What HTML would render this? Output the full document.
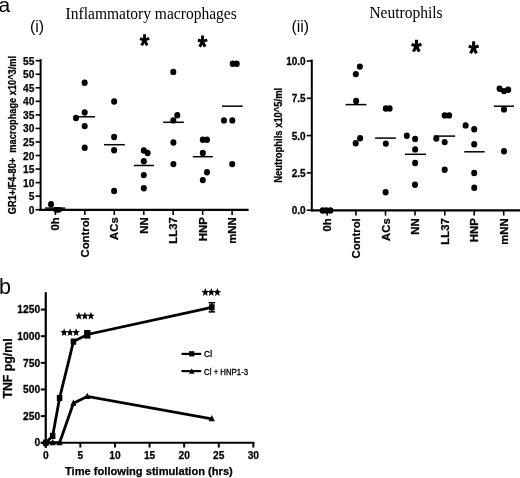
<!DOCTYPE html>
<html><head><meta charset="utf-8"><style>
html,body{margin:0;padding:0;background:#fff;}
body{width:520px;height:478px;overflow:hidden;}
svg{display:block;filter:grayscale(1);}
text{fill:#000;}
text.b{stroke:#000;stroke-width:0.25px;}
text.m{stroke:#000;stroke-width:0.35px;}
</style></head><body>
<svg width="520" height="478" viewBox="0 0 520 478">
<rect width="520" height="478" fill="#fff"/>
<text x="0" y="0" font-size="21" font-family="'Liberation Sans', sans-serif" text-anchor="start" transform="translate(-1.6 11.6)" >a</text>
<text x="0" y="0" font-size="15.8" font-family="'Liberation Sans', sans-serif" text-anchor="start" transform="translate(29.9 31.8)" >(i)</text>
<text x="0" y="0" font-size="15.8" font-family="'Liberation Sans', sans-serif" text-anchor="start" transform="translate(291.4 32.0)" >(ii)</text>
<text x="0" y="0" font-size="15.8" font-family="'Liberation Serif', serif" text-anchor="start" transform="translate(65.6 18.65)" textLength="171.2" lengthAdjust="spacingAndGlyphs">Inflammatory macrophages</text>
<text x="0" y="0" font-size="15.8" font-family="'Liberation Serif', serif" text-anchor="start" transform="translate(369.4 18.35)" textLength="73.2" lengthAdjust="spacingAndGlyphs">Neutrophils</text>
<line x1="40.6" y1="59.1" x2="40.6" y2="210.95" stroke="#000" stroke-width="2.0"/>
<line x1="39.6" y1="209.85" x2="248.6" y2="209.85" stroke="#000" stroke-width="2.2"/>
<line x1="35.6" y1="209.7" x2="40.6" y2="209.7" stroke="#000" stroke-width="1.6"/>
<text x="0" y="0" font-size="10.2" class="b" font-family="'Liberation Sans', sans-serif" font-weight="bold" text-anchor="end" transform="translate(34.4 213.7)" >0</text>
<line x1="35.6" y1="196.155" x2="40.6" y2="196.155" stroke="#000" stroke-width="1.6"/>
<text x="0" y="0" font-size="10.2" class="b" font-family="'Liberation Sans', sans-serif" font-weight="bold" text-anchor="end" transform="translate(34.4 200.155)" >5</text>
<line x1="35.6" y1="182.60999999999999" x2="40.6" y2="182.60999999999999" stroke="#000" stroke-width="1.6"/>
<text x="0" y="0" font-size="10.2" class="b" font-family="'Liberation Sans', sans-serif" font-weight="bold" text-anchor="end" transform="translate(34.4 186.60999999999999)" >10</text>
<line x1="35.6" y1="169.065" x2="40.6" y2="169.065" stroke="#000" stroke-width="1.6"/>
<text x="0" y="0" font-size="10.2" class="b" font-family="'Liberation Sans', sans-serif" font-weight="bold" text-anchor="end" transform="translate(34.4 173.065)" >15</text>
<line x1="35.6" y1="155.51999999999998" x2="40.6" y2="155.51999999999998" stroke="#000" stroke-width="1.6"/>
<text x="0" y="0" font-size="10.2" class="b" font-family="'Liberation Sans', sans-serif" font-weight="bold" text-anchor="end" transform="translate(34.4 159.51999999999998)" >20</text>
<line x1="35.6" y1="141.97499999999997" x2="40.6" y2="141.97499999999997" stroke="#000" stroke-width="1.6"/>
<text x="0" y="0" font-size="10.2" class="b" font-family="'Liberation Sans', sans-serif" font-weight="bold" text-anchor="end" transform="translate(34.4 145.97499999999997)" >25</text>
<line x1="35.6" y1="128.43" x2="40.6" y2="128.43" stroke="#000" stroke-width="1.6"/>
<text x="0" y="0" font-size="10.2" class="b" font-family="'Liberation Sans', sans-serif" font-weight="bold" text-anchor="end" transform="translate(34.4 132.43)" >30</text>
<line x1="35.6" y1="114.88499999999999" x2="40.6" y2="114.88499999999999" stroke="#000" stroke-width="1.6"/>
<text x="0" y="0" font-size="10.2" class="b" font-family="'Liberation Sans', sans-serif" font-weight="bold" text-anchor="end" transform="translate(34.4 118.88499999999999)" >35</text>
<line x1="35.6" y1="101.33999999999999" x2="40.6" y2="101.33999999999999" stroke="#000" stroke-width="1.6"/>
<text x="0" y="0" font-size="10.2" class="b" font-family="'Liberation Sans', sans-serif" font-weight="bold" text-anchor="end" transform="translate(34.4 105.33999999999999)" >40</text>
<line x1="35.6" y1="87.79499999999999" x2="40.6" y2="87.79499999999999" stroke="#000" stroke-width="1.6"/>
<text x="0" y="0" font-size="10.2" class="b" font-family="'Liberation Sans', sans-serif" font-weight="bold" text-anchor="end" transform="translate(34.4 91.79499999999999)" >45</text>
<line x1="35.6" y1="74.24999999999997" x2="40.6" y2="74.24999999999997" stroke="#000" stroke-width="1.6"/>
<text x="0" y="0" font-size="10.2" class="b" font-family="'Liberation Sans', sans-serif" font-weight="bold" text-anchor="end" transform="translate(34.4 78.24999999999997)" >50</text>
<line x1="35.6" y1="60.704999999999984" x2="40.6" y2="60.704999999999984" stroke="#000" stroke-width="1.6"/>
<text x="0" y="0" font-size="10.2" class="b" font-family="'Liberation Sans', sans-serif" font-weight="bold" text-anchor="end" transform="translate(34.4 64.70499999999998)" >55</text>
<line x1="55.4" y1="209.85" x2="55.4" y2="215.04999999999998" stroke="#000" stroke-width="1.6"/>
<text x="0" y="0" font-size="11.3" class="b" font-family="'Liberation Sans', sans-serif" font-weight="bold" text-anchor="end" transform="translate(59.4 217.3) rotate(-90)" >0h</text>
<line x1="84.85" y1="209.85" x2="84.85" y2="215.04999999999998" stroke="#000" stroke-width="1.6"/>
<text x="0" y="0" font-size="11.3" class="b" font-family="'Liberation Sans', sans-serif" font-weight="bold" text-anchor="end" transform="translate(88.85 217.3) rotate(-90)" >Control</text>
<line x1="114.3" y1="209.85" x2="114.3" y2="215.04999999999998" stroke="#000" stroke-width="1.6"/>
<text x="0" y="0" font-size="11.3" class="b" font-family="'Liberation Sans', sans-serif" font-weight="bold" text-anchor="end" transform="translate(118.3 217.3) rotate(-90)" >ACs</text>
<line x1="143.75" y1="209.85" x2="143.75" y2="215.04999999999998" stroke="#000" stroke-width="1.6"/>
<text x="0" y="0" font-size="11.3" class="b" font-family="'Liberation Sans', sans-serif" font-weight="bold" text-anchor="end" transform="translate(147.75 217.3) rotate(-90)" >NN</text>
<line x1="173.2" y1="209.85" x2="173.2" y2="215.04999999999998" stroke="#000" stroke-width="1.6"/>
<text x="0" y="0" font-size="11.3" class="b" font-family="'Liberation Sans', sans-serif" font-weight="bold" text-anchor="end" transform="translate(177.2 217.3) rotate(-90)" >LL37</text>
<line x1="202.65" y1="209.85" x2="202.65" y2="215.04999999999998" stroke="#000" stroke-width="1.6"/>
<text x="0" y="0" font-size="11.3" class="b" font-family="'Liberation Sans', sans-serif" font-weight="bold" text-anchor="end" transform="translate(206.65 217.3) rotate(-90)" >HNP</text>
<line x1="232.1" y1="209.85" x2="232.1" y2="215.04999999999998" stroke="#000" stroke-width="1.6"/>
<text x="0" y="0" font-size="11.3" class="b" font-family="'Liberation Sans', sans-serif" font-weight="bold" text-anchor="end" transform="translate(236.1 217.3) rotate(-90)" >mNN</text>
<text x="0" y="0" font-size="10.8" class="b" font-family="'Liberation Sans', sans-serif" font-weight="bold" text-anchor="start" transform="translate(16.2 214.2) rotate(-90)" textLength="158.2" lengthAdjust="spacingAndGlyphs">GR1+/F4-80+&#160; macrophage x10^3/ml</text>
<ellipse cx="51" cy="204.20" rx="3.0" ry="3.2" fill="#000"/>
<ellipse cx="84.65" cy="82.80" rx="3.0" ry="3.2" fill="#000"/>
<ellipse cx="84.7" cy="112.50" rx="3.0" ry="3.2" fill="#000"/>
<ellipse cx="76" cy="118.00" rx="3.0" ry="3.2" fill="#000"/>
<ellipse cx="84.7" cy="126.10" rx="3.0" ry="3.2" fill="#000"/>
<ellipse cx="84.7" cy="147.80" rx="3.0" ry="3.2" fill="#000"/>
<ellipse cx="114.1" cy="101.50" rx="3.0" ry="3.2" fill="#000"/>
<ellipse cx="114.1" cy="137.00" rx="3.0" ry="3.2" fill="#000"/>
<ellipse cx="114.1" cy="150.30" rx="3.0" ry="3.2" fill="#000"/>
<ellipse cx="114.1" cy="191.00" rx="3.0" ry="3.2" fill="#000"/>
<ellipse cx="143.8" cy="150.50" rx="3.0" ry="3.2" fill="#000"/>
<ellipse cx="147.6" cy="153.00" rx="3.0" ry="3.2" fill="#000"/>
<ellipse cx="143.8" cy="161.30" rx="3.0" ry="3.2" fill="#000"/>
<ellipse cx="143.8" cy="175.10" rx="3.0" ry="3.2" fill="#000"/>
<ellipse cx="143.8" cy="188.20" rx="3.0" ry="3.2" fill="#000"/>
<ellipse cx="173.3" cy="71.90" rx="3.0" ry="3.2" fill="#000"/>
<ellipse cx="177.3" cy="115.20" rx="3.0" ry="3.2" fill="#000"/>
<ellipse cx="173.3" cy="120.40" rx="3.0" ry="3.2" fill="#000"/>
<ellipse cx="173.4" cy="142.50" rx="3.0" ry="3.2" fill="#000"/>
<ellipse cx="173.4" cy="164.10" rx="3.0" ry="3.2" fill="#000"/>
<ellipse cx="202.8" cy="139.70" rx="3.0" ry="3.2" fill="#000"/>
<ellipse cx="207" cy="139.70" rx="3.0" ry="3.2" fill="#000"/>
<ellipse cx="202.8" cy="153.00" rx="3.0" ry="3.2" fill="#000"/>
<ellipse cx="207" cy="172.30" rx="3.0" ry="3.2" fill="#000"/>
<ellipse cx="202.8" cy="180.10" rx="3.0" ry="3.2" fill="#000"/>
<ellipse cx="232.7" cy="63.80" rx="3.0" ry="3.2" fill="#000"/>
<ellipse cx="236.7" cy="63.80" rx="3.0" ry="3.2" fill="#000"/>
<ellipse cx="224" cy="120.40" rx="3.0" ry="3.2" fill="#000"/>
<ellipse cx="232.3" cy="120.40" rx="3.0" ry="3.2" fill="#000"/>
<ellipse cx="232.2" cy="164.10" rx="3.0" ry="3.2" fill="#000"/>
<ellipse cx="56.0" cy="209.70" rx="2.7" ry="2.8" fill="#000"/>
<ellipse cx="57.6" cy="209.70" rx="2.7" ry="2.8" fill="#000"/>
<ellipse cx="59.2" cy="209.70" rx="2.7" ry="2.8" fill="#000"/>
<line x1="45" y1="208.1" x2="65.2" y2="208.1" stroke="#000" stroke-width="1.5"/>
<line x1="75" y1="116.8" x2="95" y2="116.8" stroke="#000" stroke-width="1.5"/>
<line x1="104" y1="144.7" x2="124.8" y2="144.7" stroke="#000" stroke-width="1.5"/>
<line x1="133.8" y1="165.5" x2="153.9" y2="165.5" stroke="#000" stroke-width="1.5"/>
<line x1="163.1" y1="122.3" x2="183.9" y2="122.3" stroke="#000" stroke-width="1.5"/>
<line x1="192.8" y1="156.7" x2="212.9" y2="156.7" stroke="#000" stroke-width="1.5"/>
<line x1="222" y1="106.2" x2="242.7" y2="106.2" stroke="#000" stroke-width="1.5"/>
<path d="M144.50,40.10L144.58,34.20 M144.50,40.10L139.95,38.60 M144.50,40.10L149.20,38.45 M144.50,40.10L141.65,45.35 M144.50,40.10L147.10,45.35" stroke="#000" stroke-width="2.90" stroke-linecap="butt" fill="none"/>
<path d="M202.50,41.50L202.58,35.60 M202.50,41.50L197.95,40.00 M202.50,41.50L207.20,39.85 M202.50,41.50L199.65,46.75 M202.50,41.50L205.10,46.75" stroke="#000" stroke-width="2.90" stroke-linecap="butt" fill="none"/>
<line x1="311.8" y1="59.5" x2="311.8" y2="211.5" stroke="#000" stroke-width="2.0"/>
<line x1="310.8" y1="210.4" x2="520" y2="210.4" stroke="#000" stroke-width="2.2"/>
<line x1="306.8" y1="210.2" x2="311.8" y2="210.2" stroke="#000" stroke-width="1.6"/>
<text x="0" y="0" font-size="10.0" class="b" font-family="'Liberation Sans', sans-serif" font-weight="bold" text-anchor="end" transform="translate(305.6 214.2) scale(1 1.1)" >0.0</text>
<line x1="306.8" y1="172.89999999999998" x2="311.8" y2="172.89999999999998" stroke="#000" stroke-width="1.6"/>
<text x="0" y="0" font-size="10.0" class="b" font-family="'Liberation Sans', sans-serif" font-weight="bold" text-anchor="end" transform="translate(305.6 176.89999999999998) scale(1 1.1)" >2.5</text>
<line x1="306.8" y1="135.6" x2="311.8" y2="135.6" stroke="#000" stroke-width="1.6"/>
<text x="0" y="0" font-size="10.0" class="b" font-family="'Liberation Sans', sans-serif" font-weight="bold" text-anchor="end" transform="translate(305.6 139.6) scale(1 1.1)" >5.0</text>
<line x1="306.8" y1="98.29999999999998" x2="311.8" y2="98.29999999999998" stroke="#000" stroke-width="1.6"/>
<text x="0" y="0" font-size="10.0" class="b" font-family="'Liberation Sans', sans-serif" font-weight="bold" text-anchor="end" transform="translate(305.6 102.29999999999998) scale(1 1.1)" >7.5</text>
<line x1="306.8" y1="61.0" x2="311.8" y2="61.0" stroke="#000" stroke-width="1.6"/>
<text x="0" y="0" font-size="10.0" class="b" font-family="'Liberation Sans', sans-serif" font-weight="bold" text-anchor="end" transform="translate(305.6 65.0) scale(1 1.1)" >10.0</text>
<line x1="327.3" y1="210.4" x2="327.3" y2="215.6" stroke="#000" stroke-width="1.6"/>
<text x="0" y="0" font-size="11.3" class="b" font-family="'Liberation Sans', sans-serif" font-weight="bold" text-anchor="end" transform="translate(331.3 218.3) rotate(-90)" >0h</text>
<line x1="355.9" y1="210.4" x2="355.9" y2="215.6" stroke="#000" stroke-width="1.6"/>
<text x="0" y="0" font-size="11.3" class="b" font-family="'Liberation Sans', sans-serif" font-weight="bold" text-anchor="end" transform="translate(359.9 218.3) rotate(-90)" >Control</text>
<line x1="385.5" y1="210.4" x2="385.5" y2="215.6" stroke="#000" stroke-width="1.6"/>
<text x="0" y="0" font-size="11.3" class="b" font-family="'Liberation Sans', sans-serif" font-weight="bold" text-anchor="end" transform="translate(389.5 218.3) rotate(-90)" >ACs</text>
<line x1="415.0" y1="210.4" x2="415.0" y2="215.6" stroke="#000" stroke-width="1.6"/>
<text x="0" y="0" font-size="11.3" class="b" font-family="'Liberation Sans', sans-serif" font-weight="bold" text-anchor="end" transform="translate(419.0 218.3) rotate(-90)" >NN</text>
<line x1="444.8" y1="210.4" x2="444.8" y2="215.6" stroke="#000" stroke-width="1.6"/>
<text x="0" y="0" font-size="11.3" class="b" font-family="'Liberation Sans', sans-serif" font-weight="bold" text-anchor="end" transform="translate(448.8 218.3) rotate(-90)" >LL37</text>
<line x1="474.2" y1="210.4" x2="474.2" y2="215.6" stroke="#000" stroke-width="1.6"/>
<text x="0" y="0" font-size="11.3" class="b" font-family="'Liberation Sans', sans-serif" font-weight="bold" text-anchor="end" transform="translate(478.2 218.3) rotate(-90)" >HNP</text>
<line x1="503.7" y1="210.4" x2="503.7" y2="215.6" stroke="#000" stroke-width="1.6"/>
<text x="0" y="0" font-size="11.3" class="b" font-family="'Liberation Sans', sans-serif" font-weight="bold" text-anchor="end" transform="translate(507.7 218.3) rotate(-90)" >mNN</text>
<text x="0" y="0" font-size="10.2" class="b" font-family="'Liberation Sans', sans-serif" font-weight="bold" text-anchor="start" transform="translate(281.9 182.8) rotate(-90)" textLength="95" lengthAdjust="spacingAndGlyphs">Neutrophils x10^5/ml</text>
<ellipse cx="322.7" cy="210.50" rx="3.0" ry="3.2" fill="#000"/>
<ellipse cx="326.3" cy="210.50" rx="3.0" ry="3.2" fill="#000"/>
<ellipse cx="330.4" cy="210.50" rx="3.0" ry="3.2" fill="#000"/>
<ellipse cx="359.9" cy="66.60" rx="3.0" ry="3.2" fill="#000"/>
<ellipse cx="355.8" cy="74.10" rx="3.0" ry="3.2" fill="#000"/>
<ellipse cx="356.1" cy="100.90" rx="3.0" ry="3.2" fill="#000"/>
<ellipse cx="360.1" cy="138.30" rx="3.0" ry="3.2" fill="#000"/>
<ellipse cx="355.7" cy="143.30" rx="3.0" ry="3.2" fill="#000"/>
<ellipse cx="385.8" cy="108.50" rx="3.0" ry="3.2" fill="#000"/>
<ellipse cx="389.6" cy="108.50" rx="3.0" ry="3.2" fill="#000"/>
<ellipse cx="385.8" cy="143.60" rx="3.0" ry="3.2" fill="#000"/>
<ellipse cx="385.6" cy="192.30" rx="3.0" ry="3.2" fill="#000"/>
<ellipse cx="406.8" cy="135.80" rx="3.0" ry="3.2" fill="#000"/>
<ellipse cx="415.1" cy="139.00" rx="3.0" ry="3.2" fill="#000"/>
<ellipse cx="415.1" cy="149.40" rx="3.0" ry="3.2" fill="#000"/>
<ellipse cx="415.1" cy="163.00" rx="3.0" ry="3.2" fill="#000"/>
<ellipse cx="415" cy="184.80" rx="3.0" ry="3.2" fill="#000"/>
<ellipse cx="444.7" cy="115.40" rx="3.0" ry="3.2" fill="#000"/>
<ellipse cx="449.1" cy="115.40" rx="3.0" ry="3.2" fill="#000"/>
<ellipse cx="436.3" cy="138.50" rx="3.0" ry="3.2" fill="#000"/>
<ellipse cx="444.7" cy="142.10" rx="3.0" ry="3.2" fill="#000"/>
<ellipse cx="444.7" cy="169.80" rx="3.0" ry="3.2" fill="#000"/>
<ellipse cx="465.6" cy="125.40" rx="3.0" ry="3.2" fill="#000"/>
<ellipse cx="474.2" cy="129.30" rx="3.0" ry="3.2" fill="#000"/>
<ellipse cx="474.2" cy="144.20" rx="3.0" ry="3.2" fill="#000"/>
<ellipse cx="474.2" cy="173.00" rx="3.0" ry="3.2" fill="#000"/>
<ellipse cx="474.25" cy="187.80" rx="3.0" ry="3.2" fill="#000"/>
<ellipse cx="499.6" cy="88.80" rx="3.0" ry="3.2" fill="#000"/>
<ellipse cx="504" cy="91.10" rx="3.0" ry="3.2" fill="#000"/>
<ellipse cx="508.2" cy="89.80" rx="3.0" ry="3.2" fill="#000"/>
<ellipse cx="504" cy="109.40" rx="3.0" ry="3.2" fill="#000"/>
<ellipse cx="504" cy="151.30" rx="3.0" ry="3.2" fill="#000"/>
<line x1="345.6" y1="104.6" x2="366.4" y2="104.6" stroke="#000" stroke-width="1.5"/>
<line x1="375.1" y1="138.1" x2="395.9" y2="138.1" stroke="#000" stroke-width="1.5"/>
<line x1="405" y1="154.3" x2="425.9" y2="154.3" stroke="#000" stroke-width="1.5"/>
<line x1="434.2" y1="136.1" x2="455.1" y2="136.1" stroke="#000" stroke-width="1.5"/>
<line x1="464.3" y1="151.8" x2="484.7" y2="151.8" stroke="#000" stroke-width="1.5"/>
<line x1="493.8" y1="106.2" x2="514" y2="106.2" stroke="#000" stroke-width="1.5"/>
<path d="M416.40,46.00L416.49,39.69 M416.40,46.00L411.53,44.40 M416.40,46.00L421.43,44.23 M416.40,46.00L413.35,51.62 M416.40,46.00L419.18,51.62" stroke="#000" stroke-width="3.10" stroke-linecap="butt" fill="none"/>
<path d="M473.60,47.70L473.69,41.39 M473.60,47.70L468.73,46.10 M473.60,47.70L478.63,45.93 M473.60,47.70L470.55,53.32 M473.60,47.70L476.38,53.32" stroke="#000" stroke-width="3.10" stroke-linecap="butt" fill="none"/>
<text x="0" y="0" font-size="21.5" font-family="'Liberation Sans', sans-serif" text-anchor="start" transform="translate(-0.9 293.7)" >b</text>
<line x1="45.75" y1="292.2" x2="45.75" y2="447.75" stroke="#000" stroke-width="2.2"/>
<line x1="40.75" y1="442.75" x2="254.35" y2="442.75" stroke="#000" stroke-width="2.2"/>
<line x1="40.75" y1="442.75" x2="45.75" y2="442.75" stroke="#000" stroke-width="2"/>
<text x="0" y="0" font-size="10.3" class="b" font-family="'Liberation Sans', sans-serif" font-weight="bold" text-anchor="end" transform="translate(40.2 446.45) scale(1 1.1)" >0</text>
<line x1="40.75" y1="416.11" x2="45.75" y2="416.11" stroke="#000" stroke-width="2"/>
<text x="0" y="0" font-size="10.3" class="b" font-family="'Liberation Sans', sans-serif" font-weight="bold" text-anchor="end" transform="translate(40.2 419.81) scale(1 1.1)" >250</text>
<line x1="40.75" y1="389.47" x2="45.75" y2="389.47" stroke="#000" stroke-width="2"/>
<text x="0" y="0" font-size="10.3" class="b" font-family="'Liberation Sans', sans-serif" font-weight="bold" text-anchor="end" transform="translate(40.2 393.17) scale(1 1.1)" >500</text>
<line x1="40.75" y1="362.83" x2="45.75" y2="362.83" stroke="#000" stroke-width="2"/>
<text x="0" y="0" font-size="10.3" class="b" font-family="'Liberation Sans', sans-serif" font-weight="bold" text-anchor="end" transform="translate(40.2 366.53) scale(1 1.1)" >750</text>
<line x1="40.75" y1="336.19" x2="45.75" y2="336.19" stroke="#000" stroke-width="2"/>
<text x="0" y="0" font-size="10.3" class="b" font-family="'Liberation Sans', sans-serif" font-weight="bold" text-anchor="end" transform="translate(40.2 339.89) scale(1 1.1)" >1000</text>
<line x1="40.75" y1="309.55" x2="45.75" y2="309.55" stroke="#000" stroke-width="2"/>
<text x="0" y="0" font-size="10.3" class="b" font-family="'Liberation Sans', sans-serif" font-weight="bold" text-anchor="end" transform="translate(40.2 313.25) scale(1 1.1)" >1250</text>
<line x1="45.75" y1="442.75" x2="45.75" y2="447.55" stroke="#000" stroke-width="2"/>
<text x="0" y="0" font-size="10.2" class="b" font-family="'Liberation Sans', sans-serif" font-weight="bold" text-anchor="middle" transform="translate(45.75 459.3)" >0</text>
<line x1="80.35" y1="442.75" x2="80.35" y2="447.55" stroke="#000" stroke-width="2"/>
<text x="0" y="0" font-size="10.2" class="b" font-family="'Liberation Sans', sans-serif" font-weight="bold" text-anchor="middle" transform="translate(80.35 459.3)" >5</text>
<line x1="114.95" y1="442.75" x2="114.95" y2="447.55" stroke="#000" stroke-width="2"/>
<text x="0" y="0" font-size="10.2" class="b" font-family="'Liberation Sans', sans-serif" font-weight="bold" text-anchor="middle" transform="translate(114.95 459.3)" >10</text>
<line x1="149.55" y1="442.75" x2="149.55" y2="447.55" stroke="#000" stroke-width="2"/>
<text x="0" y="0" font-size="10.2" class="b" font-family="'Liberation Sans', sans-serif" font-weight="bold" text-anchor="middle" transform="translate(149.55 459.3)" >15</text>
<line x1="184.15" y1="442.75" x2="184.15" y2="447.55" stroke="#000" stroke-width="2"/>
<text x="0" y="0" font-size="10.2" class="b" font-family="'Liberation Sans', sans-serif" font-weight="bold" text-anchor="middle" transform="translate(184.15 459.3)" >20</text>
<line x1="218.75" y1="442.75" x2="218.75" y2="447.55" stroke="#000" stroke-width="2"/>
<text x="0" y="0" font-size="10.2" class="b" font-family="'Liberation Sans', sans-serif" font-weight="bold" text-anchor="middle" transform="translate(218.75 459.3)" >25</text>
<line x1="253.35" y1="442.75" x2="253.35" y2="447.55" stroke="#000" stroke-width="2"/>
<text x="0" y="0" font-size="10.2" class="b" font-family="'Liberation Sans', sans-serif" font-weight="bold" text-anchor="middle" transform="translate(253.35 459.3)" >30</text>
<text x="0" y="0" font-size="11.1" class="b" font-family="'Liberation Sans', sans-serif" font-weight="bold" text-anchor="start" transform="translate(65 475)" textLength="167.8" lengthAdjust="spacingAndGlyphs">Time following stimulation (hrs)</text>
<text x="0" y="0" font-size="12.4" class="b" font-family="'Liberation Sans', sans-serif" font-weight="bold" text-anchor="start" transform="translate(12.4 398.6) rotate(-90)" textLength="60.2" lengthAdjust="spacingAndGlyphs">TNF pg/ml</text>
<polyline points="45.75,442.75 52.67,435.93 59.59,397.99 73.43,341.62 87.27,334.49 211.83,307.31" fill="none" stroke="#000" stroke-width="2.8" stroke-linejoin="miter"/>
<polyline points="45.75,442.75 52.67,442.75 59.59,442.75 73.43,403.22 87.27,396.40 211.83,418.77" fill="none" stroke="#000" stroke-width="2.8" stroke-linejoin="miter"/>
<rect x="43.00" y="439.65" width="5.5" height="6.2" fill="#000"/>
<rect x="49.92" y="432.83" width="5.5" height="6.2" fill="#000"/>
<rect x="56.84" y="394.89" width="5.5" height="6.2" fill="#000"/>
<rect x="70.68" y="338.52" width="5.5" height="6.2" fill="#000"/>
<rect x="84.52" y="331.39" width="5.5" height="6.2" fill="#000"/>
<rect x="209.08" y="304.21" width="5.5" height="6.2" fill="#000"/>
<path d="M45.75,439.03L48.85,445.23L42.65,445.23Z" fill="#000"/>
<path d="M52.67,439.03L55.77,445.23L49.57,445.23Z" fill="#000"/>
<path d="M59.59,439.03L62.69,445.23L56.49,445.23Z" fill="#000"/>
<path d="M73.43,399.50L76.53,405.70L70.33,405.70Z" fill="#000"/>
<path d="M87.27,392.68L90.37,398.88L84.17,398.88Z" fill="#000"/>
<path d="M211.83,415.05L214.93,421.25L208.73,421.25Z" fill="#000"/>
<line x1="211.82999999999998" y1="302.73015999999996" x2="211.82999999999998" y2="311.89432" stroke="#000" stroke-width="1.5"/>
<line x1="208.57999999999998" y1="302.73015999999996" x2="215.07999999999998" y2="302.73015999999996" stroke="#000" stroke-width="1.5"/>
<line x1="208.57999999999998" y1="311.89432" x2="215.07999999999998" y2="311.89432" stroke="#000" stroke-width="1.5"/>
<rect x="84.15" y="330.0" width="6.3" height="8.6" fill="#000"/>
<polygon points="64.10,328.13 65.13,330.91 67.81,331.15 65.76,333.11 66.39,336.03 64.10,334.46 61.81,336.03 62.44,333.11 60.39,331.15 63.07,330.91" fill="#000"/>
<polygon points="70.10,328.13 71.13,330.91 73.81,331.15 71.76,333.11 72.39,336.03 70.10,334.46 67.81,336.03 68.44,333.11 66.39,331.15 69.07,330.91" fill="#000"/>
<polygon points="76.10,328.13 77.13,330.91 79.81,331.15 77.76,333.11 78.39,336.03 76.10,334.46 73.81,336.03 74.44,333.11 72.39,331.15 75.07,330.91" fill="#000"/>
<polygon points="78.90,311.63 79.93,314.41 82.61,314.65 80.56,316.61 81.19,319.53 78.90,317.96 76.61,319.53 77.24,316.61 75.19,314.65 77.87,314.41" fill="#000"/>
<polygon points="84.90,311.63 85.93,314.41 88.61,314.65 86.56,316.61 87.19,319.53 84.90,317.96 82.61,319.53 83.24,316.61 81.19,314.65 83.87,314.41" fill="#000"/>
<polygon points="90.90,311.63 91.93,314.41 94.61,314.65 92.56,316.61 93.19,319.53 90.90,317.96 88.61,319.53 89.24,316.61 87.19,314.65 89.87,314.41" fill="#000"/>
<polygon points="205.30,288.03 206.33,290.81 209.01,291.05 206.96,293.01 207.59,295.93 205.30,294.36 203.01,295.93 203.64,293.01 201.59,291.05 204.27,290.81" fill="#000"/>
<polygon points="211.30,288.03 212.33,290.81 215.01,291.05 212.96,293.01 213.59,295.93 211.30,294.36 209.01,295.93 209.64,293.01 207.59,291.05 210.27,290.81" fill="#000"/>
<polygon points="217.30,288.03 218.33,290.81 221.01,291.05 218.96,293.01 219.59,295.93 217.30,294.36 215.01,295.93 215.64,293.01 213.59,291.05 216.27,290.81" fill="#000"/>
<line x1="181.5" y1="353.9" x2="201.2" y2="353.9" stroke="#000" stroke-width="2.2"/>
<rect x="189.10" y="351.20" width="5.2" height="5.2" fill="#000"/>
<text x="0" y="0" font-size="9.8" font-family="'Liberation Sans', sans-serif" text-anchor="start" transform="translate(204.1 357.3)" class="m" textLength="7.9" lengthAdjust="spacingAndGlyphs">Cl</text>
<line x1="181.5" y1="371.1" x2="201.2" y2="371.1" stroke="#000" stroke-width="2.2"/>
<path d="M191.70,368.14L194.40,373.74L189.00,373.74Z" fill="#000"/>
<text x="0" y="0" font-size="9.8" font-family="'Liberation Sans', sans-serif" text-anchor="start" transform="translate(204.1 374.6)" class="m" textLength="44.0" lengthAdjust="spacingAndGlyphs">Cl + HNP1-3</text>
</svg>
</body></html>
